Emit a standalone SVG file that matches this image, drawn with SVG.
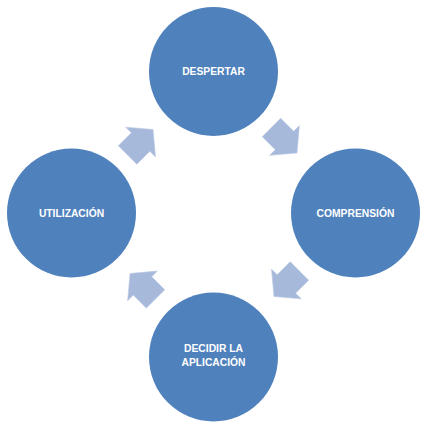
<svg xmlns="http://www.w3.org/2000/svg" width="429" height="427" viewBox="0 0 429 427">
  <style>
    .node circle { fill: #4F81BD; }
    .node text { fill: #FFFFFF; font-family: "Liberation Sans", Arial, sans-serif; font-weight: bold; font-size: 10.3px; text-anchor: middle; }
    .arrow { fill: #A6B9DA; stroke: #B9C8E3; stroke-width: 0.6; }
  </style>
  <defs>
    <polygon id="arr" class="arrow" points="-18.4,-13 0,-13 0,-21 17.6,0 0,21 0,13 -18.4,13"/>
  </defs>
  <rect width="429" height="427" fill="#FFFFFF"/>
  <g id="connectors">
    <use href="#arr" transform="translate(140.6,142) rotate(-45)"/>
    <use href="#arr" transform="translate(284.5,140.5) rotate(45)"/>
    <use href="#arr" transform="translate(286.4,284) rotate(135)"/>
    <use href="#arr" transform="translate(142.5,285.9) rotate(-135)"/>
  </g>
  <g id="despertar" class="node">
    <circle cx="213.5" cy="71.5" r="64.5"/>
    <text x="213.5" y="75">DESPERTAR</text>
  </g>
  <g id="comprension" class="node">
    <circle cx="355.5" cy="213" r="64.5"/>
    <text x="355.5" y="217">COMPRENSIÓN</text>
  </g>
  <g id="decidir" class="node">
    <circle cx="213.5" cy="357" r="64.5"/>
    <text x="213.5" y="352">DECIDIR LA</text>
    <text x="213.5" y="366">APLICACIÓN</text>
  </g>
  <g id="utilizacion" class="node">
    <circle cx="71.5" cy="213" r="64.5"/>
    <text x="71.5" y="217">UTILIZACIÓN</text>
  </g>
</svg>
